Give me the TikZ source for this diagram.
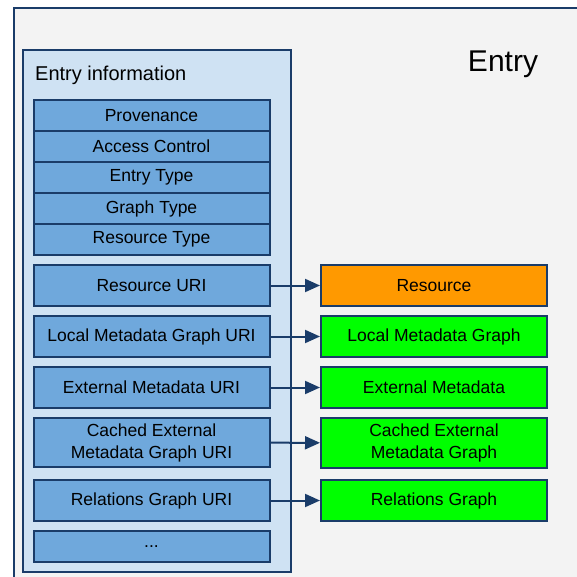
\documentclass[tikz,border=0pt]{standalone}
\usepackage{fontspec}
\setmainfont{Liberation Sans}
\usetikzlibrary{arrows.meta}
\definecolor{navy}{RGB}{26,60,105}
\definecolor{pagegray}{RGB}{243,243,243}
\definecolor{infoblue}{RGB}{207,226,243}
\definecolor{fieldblue}{RGB}{111,168,220}
\definecolor{resorange}{RGB}{255,153,0}
\definecolor{graphgreen}{RGB}{0,255,0}
\begin{document}
\begin{tikzpicture}[x=1pt,y=-1pt,
  field/.style={draw=navy,line width=2pt,fill=fieldblue,minimum width=236pt,
    inner sep=0pt,align=center,font=\fontsize{17.5}{22}\selectfont},
  target/.style={draw=navy,line width=2pt,minimum width=226pt,
    inner sep=0pt,align=center,font=\fontsize{17.5}{22}\selectfont},
  link/.style={draw=navy,line width=2pt,-{Triangle[length=15pt,width=13pt]}}]
  \useasboundingbox (0,0) rectangle (577,577);

  % the entry itself
  \fill [pagegray] (14,8) rectangle (577,577);
  \draw [navy,line width=2pt] (577,8) -- (14,8) -- (14,577);
  \node [font=\fontsize{30}{34}\selectfont] (entry) at (503,64) {Entry};

  % entry information block
  \draw [navy,line width=2pt,fill=infoblue] (23,50) rectangle (291,572);
  \node [anchor=base west,inner sep=0pt,font=\fontsize{20}{24}\selectfont] (info) at (35,81) {Entry information};

  \node [field,minimum height=31pt] (prov) at (151.5,115.5) {Provenance};
  \node [field,minimum height=31pt] (acc)  at (151.5,146.5) {Access Control};
  \node [field,minimum height=31pt] (etype) at (151.5,177.5) {Entry Type};
  \node [field,minimum height=31pt] (gtype) at (151.5,208.5) {Graph Type};
  \node [field,minimum height=31pt] (rtype) at (151.5,239.5) {Resource Type};

  \node [field,minimum height=41pt] (ruri) at (151.5,285.5) {Resource URI};
  \node [field,minimum height=41pt] (luri) at (151.5,336.5) {Local Metadata Graph URI};
  \node [field,minimum height=41pt] (euri) at (151.5,387.5) {External Metadata URI};
  \node [field,minimum height=49pt] (curi) at (151.5,442.5) {Cached External\\Metadata Graph URI};
  \node [field,minimum height=41pt] (reluri) at (151.5,500.5) {Relations Graph URI};
  \node [field,minimum height=31pt] (more) at (151.5,546.5) {...};

  % things the URIs point to
  \node [target,fill=resorange,minimum height=41pt] (res) at (434,285.5) {Resource};
  \node [target,fill=graphgreen,minimum height=41pt] (lmg) at (434,336.5) {Local Metadata Graph};
  \node [target,fill=graphgreen,minimum height=41pt] (emd) at (434,387.5) {External Metadata};
  \node [target,fill=graphgreen,minimum height=50pt] (cemg) at (434,443) {Cached External\\Metadata Graph};
  \node [target,fill=graphgreen,minimum height=41pt] (relg) at (434,500.5) {Relations Graph};

  \draw [link] (ruri) -- (res);
  \draw [link] (luri) -- (lmg);
  \draw [link] (euri) -- (emd);
  \draw [link] (curi) -- (cemg);
  \draw [link] (reluri) -- (relg);
\end{tikzpicture}
\end{document}
